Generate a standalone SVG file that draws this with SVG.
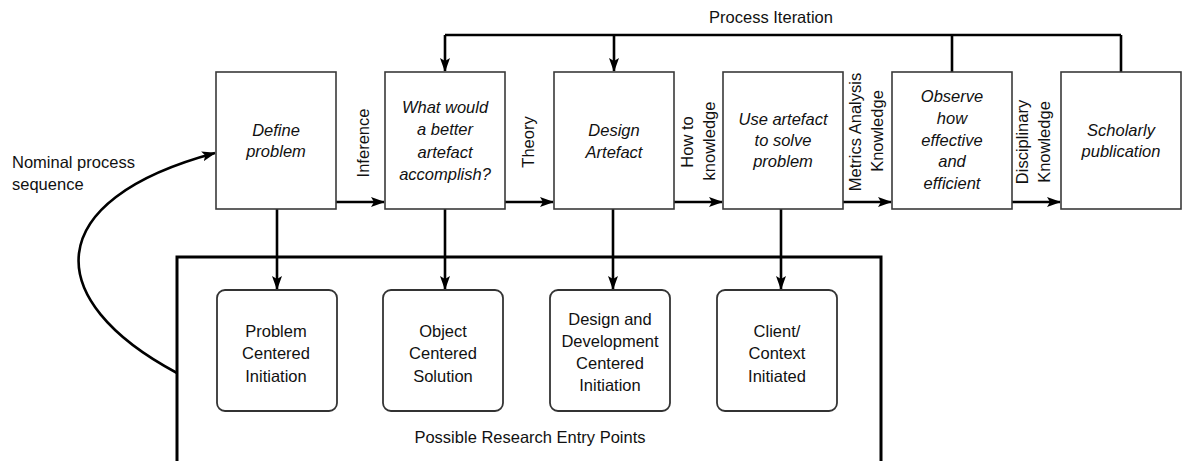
<svg xmlns="http://www.w3.org/2000/svg" width="1182" height="461" viewBox="0 0 1182 461">
<style>
text{font-family:"Liberation Sans",Arial,sans-serif;font-size:16.5px;fill:#111;}
.it{font-style:italic;text-anchor:middle;}
.c{text-anchor:middle;}
.box{fill:#fff;stroke:#3a3a3a;stroke-width:1.6;}
.ent{fill:#fff;stroke:#333;stroke-width:1.8;}
.ln{fill:none;stroke:#000;stroke-width:2.6;}
.arr{fill:none;stroke:#000;stroke-width:2.6;marker-end:url(#ah);}
</style>
<defs>
<marker id="ah" viewBox="0 0 14 10" refX="13" refY="5" markerWidth="14" markerHeight="10" markerUnits="userSpaceOnUse" orient="auto">
<path d="M0,0 L14,5 L0,10 L3,5 z" fill="#000"/>
</marker>
</defs>
<rect width="1182" height="461" fill="#fff"/>

<g id="connectors">
<path class="ln" d="M445,35 H1121 M952,35 V72 M1121,35 V72"/>
<path class="arr" d="M445,35 V71"/>
<path class="arr" d="M614,35 V71"/>
<path class="arr" d="M336,202 H384"/>
<path class="arr" d="M505,202 H553"/>
<path class="arr" d="M674,202 H722"/>
<path class="arr" d="M843,202 H891"/>
<path class="arr" d="M1012,202 H1060"/>
<path class="arr" d="M277,209 V289"/>
<path class="arr" d="M445,209 V289"/>
<path class="arr" d="M613,209 V289"/>
<path class="arr" d="M781,209 V289"/>
<path class="arr" d="M177,373 C40,300 40,200 215,153"/>
</g>

<g id="entry-frame">
<path d="M177,475 V257 H881 V475" fill="none" stroke="#000" stroke-width="3"/>
<text class="c" x="530" y="443">Possible Research Entry Points</text>
</g>

<g id="nominal-label">
<text x="12" y="168">Nominal process</text>
<text x="12" y="190">sequence</text>
</g>

<g id="process-iteration-label">
<text class="c" x="771" y="23">Process Iteration</text>
</g>

<g id="define-problem">
<rect class="box" x="216" y="72" width="120" height="137"/>
<text class="it" x="276" y="136">Define</text>
<text class="it" x="276" y="157">problem</text>
</g>
<g id="better-artefact">
<rect class="box" x="385" y="72" width="120" height="137"/>
<text class="it" x="445" y="113">What would</text>
<text class="it" x="445" y="135">a better</text>
<text class="it" x="445" y="158">artefact</text>
<text class="it" x="445" y="180">accomplish?</text>
</g>
<g id="design-artefact">
<rect class="box" x="554" y="72" width="120" height="137"/>
<text class="it" x="614" y="136">Design</text>
<text class="it" x="614" y="158">Artefact</text>
</g>
<g id="use-artefact">
<rect class="box" x="723" y="72" width="120" height="137"/>
<text class="it" x="783" y="125">Use artefact</text>
<text class="it" x="783" y="146">to solve</text>
<text class="it" x="783" y="167">problem</text>
</g>
<g id="observe">
<rect class="box" x="892" y="72" width="120" height="137"/>
<text class="it" x="952" y="102">Observe</text>
<text class="it" x="952" y="124">how</text>
<text class="it" x="952" y="146">effective</text>
<text class="it" x="952" y="167">and</text>
<text class="it" x="952" y="189">efficient</text>
</g>
<g id="scholarly">
<rect class="box" x="1061" y="72" width="120" height="137"/>
<text class="it" x="1121" y="136">Scholarly</text>
<text class="it" x="1121" y="157">publication</text>
</g>

<g id="edge-labels">
<text class="c" transform="translate(369,143) rotate(-90)">Inference</text>
<text class="c" transform="translate(534,142) rotate(-90)">Theory</text>
<text class="c" transform="translate(693,142) rotate(-90)">How to</text>
<text class="c" transform="translate(715,141) rotate(-90)">knowledge</text>
<text class="c" transform="translate(861,132) rotate(-90)">Metrics Analysis</text>
<text class="c" transform="translate(883,131) rotate(-90)">Knowledge</text>
<text class="c" transform="translate(1028,142) rotate(-90)">Disciplinary</text>
<text class="c" transform="translate(1050,142) rotate(-90)">Knowledge</text>
</g>

<g id="problem-centered">
<rect class="ent" x="217" y="290" width="120" height="121" rx="8"/>
<text class="c" x="276" y="337">Problem</text>
<text class="c" x="276" y="359">Centered</text>
<text class="c" x="276" y="382">Initiation</text>
</g>
<g id="object-centered">
<rect class="ent" x="383" y="290" width="120" height="121" rx="8"/>
<text class="c" x="443" y="337">Object</text>
<text class="c" x="443" y="359">Centered</text>
<text class="c" x="443" y="382">Solution</text>
</g>
<g id="design-development">
<rect class="ent" x="550" y="290" width="120" height="121" rx="8"/>
<text class="c" x="610" y="325">Design and</text>
<text class="c" x="610" y="347">Development</text>
<text class="c" x="610" y="369">Centered</text>
<text class="c" x="610" y="391">Initiation</text>
</g>
<g id="client-context">
<rect class="ent" x="717" y="290" width="120" height="121" rx="8"/>
<text class="c" x="777" y="337">Client/</text>
<text class="c" x="777" y="359">Context</text>
<text class="c" x="777" y="382">Initiated</text>
</g>
</svg>
